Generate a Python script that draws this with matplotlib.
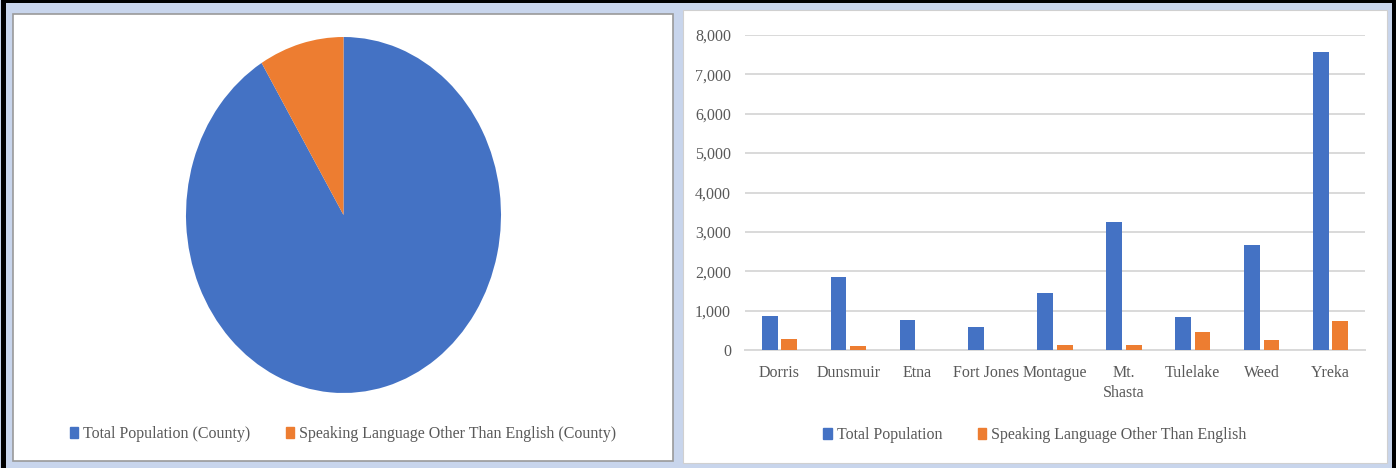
import matplotlib.pyplot as plt
from matplotlib.patches import Rectangle, Patch

# pie data (county)
pie_labels = ["Total Population (County)", "Speaking Language Other Than English (County)"]
pie_values = [43540, 4150]

# bar data (towns)
towns = ["Dorris", "Dunsmuir", "Etna", "Fort Jones", "Montague", "Mt.\nShasta", "Tulelake", "Weed", "Yreka"]
total_pop = [860, 1850, 760, 580, 1460, 3260, 840, 2670, 7580]
other_lang = [280, 100, 0, 0, 120, 120, 460, 250, 740]
bar_labels = ["Total Population", "Speaking Language Other Than English"]
yticks = [0, 1000, 2000, 3000, 4000, 5000, 6000, 7000, 8000]

BLUE = "#4472C4"
ORANGE = "#ED7D31"
TXT = "#595959"
W, H = 1396, 468

plt.rcParams["font.family"] = ["Liberation Serif", "DejaVu Serif"]

fig = plt.figure(figsize=(W / 100, H / 100), dpi=100)
fig.patch.set_facecolor("#C8D5EC")


def box(x0, y0, x1, y1):
    # pixel box (top-left origin) -> figure fractions
    return [x0 / W, 1 - y1 / H, (x1 - x0) / W, (y1 - y0) / H]


def rect(x0, y0, x1, y1, **kw):
    l, b, w, h = box(x0, y0, x1, y1)
    fig.patches.append(Rectangle((l, b), w, h, transform=fig.transFigure, zorder=-5, **kw))


# outer frame and panels
rect(1, 0, 6, 468, facecolor="black", edgecolor="none")
rect(1, 0, 1396, 3, facecolor="black", edgecolor="none")
rect(1392, 0, 1396, 468, facecolor="black", edgecolor="none")
rect(13, 14, 673, 461, facecolor="white", edgecolor="#9A9A9A", linewidth=1.2)
rect(683, 10, 1387, 463, facecolor="white", edgecolor="#D0D0D0", linewidth=0.8)

# pie
ax1 = fig.add_axes(box(186, 37, 501, 393))
ax1.patch.set_visible(False)
ax1.pie(pie_values, colors=[BLUE, ORANGE], startangle=90, counterclock=False,
        wedgeprops=dict(linewidth=0))
ax1.set_aspect("auto")
ax1.set_xlim(-1, 1)
ax1.set_ylim(-1, 1)
ax1.axis("off")

h1 = [Patch(color=BLUE), Patch(color=ORANGE)]
fig.legend(h1, pie_labels, loc="center", bbox_to_anchor=(343 / W, 1 - 434 / H), ncol=2,
           frameon=False, fontsize=11.5, handlelength=0.55, handleheight=0.65,
           handletextpad=0.3, columnspacing=2.2, labelcolor=TXT)

# bars
ax2 = fig.add_axes(box(745, 35, 1365, 350))
ax2.patch.set_visible(False)
x = list(range(len(towns)))
bw = 0.23
ax2.bar([i - 0.142 for i in x], total_pop, width=bw, color=BLUE, zorder=3)
ax2.bar([i + 0.142 for i in x], other_lang, width=bw, color=ORANGE, zorder=3)
ax2.set_xlim(-0.5, len(towns) - 0.5)
ax2.set_ylim(0, 8000)
ax2.set_yticks(yticks)
ax2.set_yticklabels([f"{v:,}" for v in yticks])
ax2.set_xticks(x)
ax2.set_xticklabels(towns, va="top", linespacing=1.3)
ax2.grid(axis="y", color="#D9D9D9", linewidth=1.4, zorder=0)
for s in ["top", "right", "left"]:
    ax2.spines[s].set_visible(False)
ax2.spines["bottom"].set_color("#D9D9D9")
ax2.spines["bottom"].set_linewidth(1.4)
ax2.tick_params(axis="both", length=0, labelsize=11.5, colors=TXT)
ax2.tick_params(axis="x", pad=11)
ax2.tick_params(axis="y", pad=10)

h2 = [Patch(color=BLUE), Patch(color=ORANGE)]
fig.legend(h2, bar_labels, loc="center", bbox_to_anchor=(1035 / W, 1 - 435 / H), ncol=2,
           frameon=False, fontsize=11.5, handlelength=0.55, handleheight=0.65,
           handletextpad=0.3, columnspacing=2.2, labelcolor=TXT)

fig.savefig("out.png", dpi=100, facecolor=fig.get_facecolor())
